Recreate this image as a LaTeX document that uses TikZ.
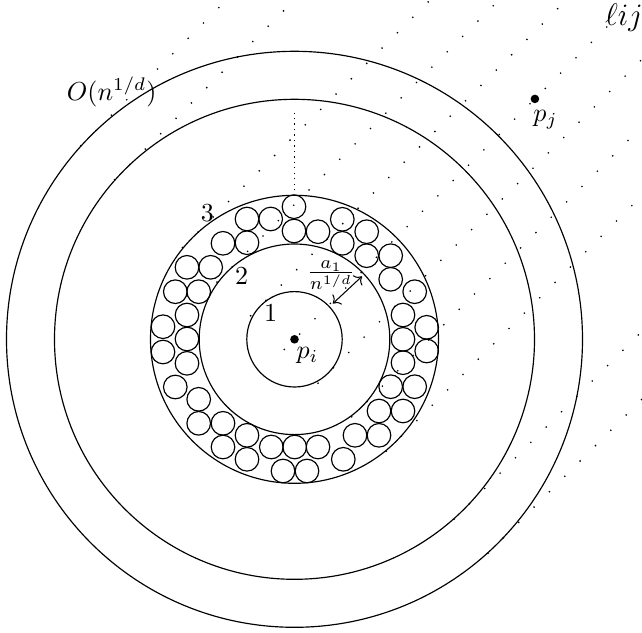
\documentclass[tikz,border=0pt]{standalone}
\usepackage{amsmath}
\usetikzlibrary{arrows.meta,calc}
\tikzset{
ringline/.style={draw=black, line width=0.45pt},
ballline/.style={draw=black, line width=0.45pt},
ptdot/.style={circle, fill=black, inner sep=0pt, minimum size=3.3pt},
stripline/.style={line width=0.5pt, dash pattern=on 0.5pt off 7.85pt},
gapdots/.style={line width=0.45pt, dash pattern=on 0.5pt off 1.6pt},
lbl/.style={inner sep=0pt},
radarrow/.style={{To[length=2.5pt]}-{To[length=2.5pt]}, line width=0.4pt}
}

\begin{document}
\begin{tikzpicture}[x=0.3846pt, y=0.3846pt]
\useasboundingbox (-294.5,-292.7) rectangle (347.5,339.3);
\clip (-294.5,-292.7) rectangle (347.5,339.3);
\coordinate (pi) at (0,0);
\coordinate (pj) at (240.4,240.4);

% strip from p_i towards p_j, one line tangent to each ring
\foreach \d in {-288,-240,-144,-95.3,-47.7,0,47.7,95.3,144,240,288}
  \draw[stripline] ($(pi)+(-45:\d)+(45:-15)$) -- ++(45:800);

% rings around p_i
\foreach \r in {47.7,95.3,144,240,288}
  \draw[ringline] (pi) circle[radius=\r];

% balls in ring 3
\foreach \bx/\by in {-0.5/132.6,-47.5/120.3,-23.8/120.3,-0.5/108.3,-71.5/96,-47.5/96.6,
  -107.5/72,-83.8/72,-119.2/47.6,-95.8/47.6,-107.5/24.3,-131.5/12.6,-107.5/0.3,
  23.5/107.6,47.8/120,47.8/96,72.2/107.6,72.2/83.6,96.2/83.6,96.2/60,
  120.2/47.6,108.5/24.3,132.2/12,
  -131.5/-12.7,-107.5/-24,-119.2/-47.7,-95.8/-60,-95.8/-84,-71.5/-84,-47.5/-96,
  -71.5/-107.7,-47.5/-120,-23.2/-107.7,0.2/-107.7,-11.5/-131.7,12.5/-131.7,
  108.5/0,132.2/-11.7,108.5/-23.4,96.2/-47.4,120.2/-47.4,84.5/-71.7,108.5/-71.7,
  60.5/-96,84.5/-96,48.8/-120,23.5/-107.7}
  \draw[ballline] (\bx,\by) circle[radius=11.8];

% gap between ring 3 and the outer rings
\draw[gapdots] (0,149) -- (0,226);

% points and labels
\node[ptdot] (dpi) at (pi) {};
\node[ptdot] (dpj) at (pj) {};
\node[lbl] (lpi) at (13,-16) {$p_i$};
\node[lbl] (lpj) at (251,219.3) {$p_j$};
\node[lbl] (n1) at (-23.8,26.6) {1};
\node[lbl] (n2) at (-52.8,63.3) {2};
\node[lbl] (n3) at (-87.2,126.6) {3};
\node[lbl, font=\large] (lij) at (329.5,321.3) {$\ell ij$};
\node[lbl] (lO) at (-182.8,247.3) {$O(n^{1/d})$};
\node[lbl] (lfrac) at (36.5,64.3) {$\frac{a_1}{n^{1/d}}$};

\coordinate (ain) at (43:52.4);
\coordinate (aout) at (43:92.3);
\draw[radarrow] (ain) -- (aout);
\end{tikzpicture}
\end{document}
